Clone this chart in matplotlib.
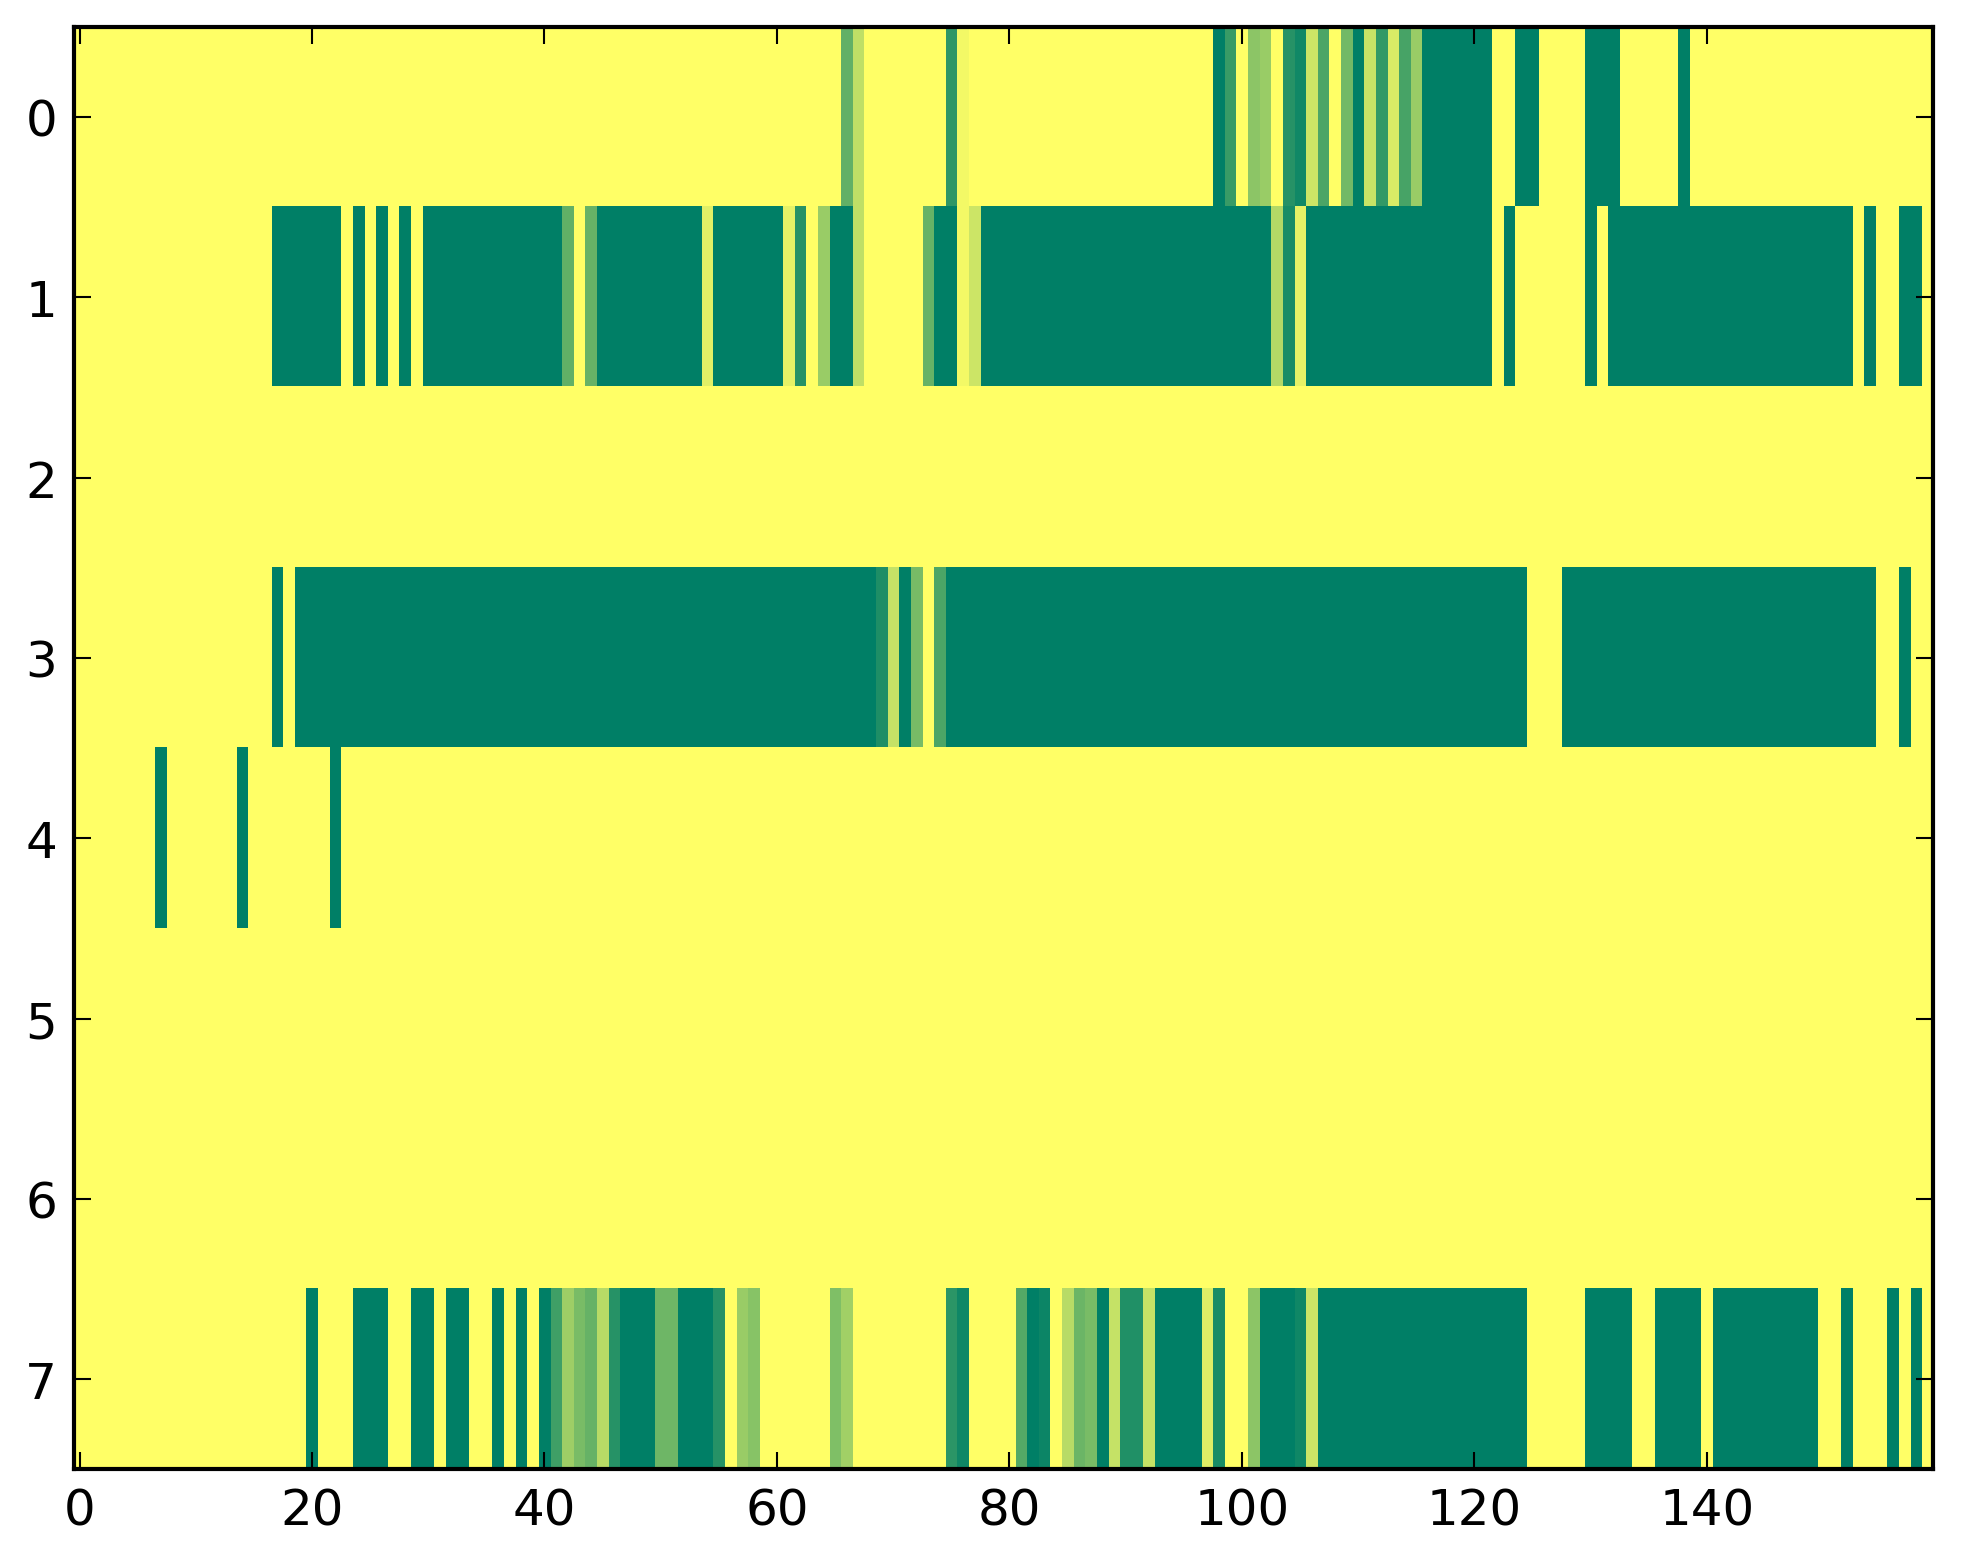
import numpy as np
import matplotlib
matplotlib.use("Agg")
import matplotlib.pyplot as plt

# Heatmap values (8 rows x 160 columns), 0 = yellow, 1 = green
row0 = [0]*20 + [0]*20 + [0]*20 + \
    [0, 0, 0, 0, 0, 0, .62, .25, 0, 0, 0, 0, 0, 0, 0, .82, .05, 0, 0, 0] + \
    [0]*18 + [1, .78] + \
    [0, .45, .4, 0, .85, .93, .2, .7, 0, .55, 1, .22, .8, .15, .72, .4, 1, 1, 1, 1] + \
    [1, 1, 0, 0, 1, 1, 0, 0, 0, 0, 1, 1, 1, 0, 0, 0, 0, 0, 1, 0] + \
    [0]*20

row1 = [0]*17 + [1, 1, 1] + \
    [1, 1, 1, 0, 1, 0, 1, 0, 1, 0] + [1]*10 + \
    [1, 1, .62, 0, .6] + [1]*9 + [.12] + [1]*5 + \
    [1, .1, .85, 0, .4, 1, 1, .25, 0, 0, 0, 0, 0, .6, 1, 1, .05, .2, 1, 1] + \
    [1]*20 + \
    [1, 1, 1, .3, .9, .1] + [1]*14 + \
    [1, 1, 0, 1, 0, 0, 0, 0, 0, 0, 1, 0] + [1]*8 + \
    [1]*13 + [0, 1, 0, 0, 1, 1, 0]

row2 = [0]*160

row3 = [0]*17 + [1, 0, 1] + \
    [1]*20 + \
    [1]*20 + \
    [1]*9 + [.88, .23, 1, .53, 0, .7, 1, 1, 1, 1, 1] + \
    [1]*20 + \
    [1]*20 + \
    [1, 1, 1, 1, 1, 0, 0, 0] + [1]*12 + \
    [1]*15 + [0, 0, 1, 0, 0]

row4 = [0]*7 + [1] + [0]*6 + [1] + [0]*7 + [1] + [0]*137

row5 = [0]*160

row6 = [0]*160

row7 = [0]*20 + \
    [1, 0, 0, 0, 1, 1, 1, 0, 0, 1, 1, 0, 1, 1, 0, 0, 1, 0, 1, 0] + \
    [1, .75, .38, .52, .6, .28, .85, 1, 1, 1, .57, .57, 1, 1, 1, .85, 0, .4, .47, 0] + \
    [0, 0, 0, 0, 0, .5, .37, 0, 0, 0, 0, 0, 0, 0, 0, .83, .94, 0, 0, 0] + \
    [0, .67, 1, .95, 0, .28, .58, .52, 1, .23, .87, .87, .23, 1, 1, 1, 1, .13, .9, 0] + \
    [0, .45, 1, 1, 1, .94, .2] + [1]*13 + \
    [1, 1, 1, 1, 1, 0, 0, 0, 0, 0, 1, 1, 1, 1, 0, 0, 1, 1, 1, 1] + \
    [0] + [1]*9 + [0, 0, 1, 0, 0, 0, 1, 0, 1, 0]

rows = [row0, row1, row2, row3, row4, row5, row6, row7]
data = np.array(rows, dtype=float)

plt.rcParams.update({
    "font.family": ["DejaVu Sans"],
    "font.size": 12,
    "xtick.direction": "in",
    "ytick.direction": "in",
    "xtick.top": True,
    "ytick.right": True,
    "xtick.major.size": 4,
    "ytick.major.size": 4,
    "xtick.major.pad": 4,
    "ytick.major.pad": 4,
    "xtick.major.width": 0.5,
    "ytick.major.width": 0.5,
    "axes.linewidth": 1.0,
})

fig = plt.figure(figsize=(1963 / 300, 1564 / 300), dpi=300, facecolor="white")
ax = fig.add_axes([0.03754, 0.0598, 0.94743, 0.9225])
ax.imshow(data, cmap="summer_r", vmin=0, vmax=1, aspect="auto",
          interpolation="nearest")
ax.set_xticks([0, 20, 40, 60, 80, 100, 120, 140])
ax.set_yticks(range(8))
ax.tick_params(labelsize=12)

fig.savefig("out.png", dpi=300, facecolor="white")
